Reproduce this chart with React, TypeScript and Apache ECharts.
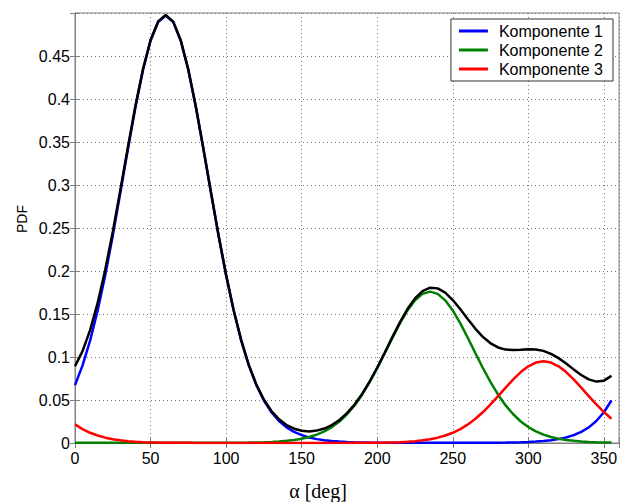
import React, { useEffect, useRef } from "react";
import * as echarts from "echarts";

const angles = [
  0, 5, 10, 15, 20, 25, 30, 35, 40, 45, 50, 55, 60, 65, 70, 75, 80, 85, 90, 95,
  100, 105, 110, 115, 120, 125, 130, 135, 140, 145, 150, 155, 160, 165, 170, 175,
  180, 185, 190, 195, 200, 205, 210, 215, 220, 225, 230, 235, 240, 245, 250, 255,
  260, 265, 270, 275, 280, 285, 290, 295, 300, 305, 310, 315, 320, 325, 330, 335,
  340, 345, 350, 355,
];

const komponente1 = [
  0.0673, 0.0903, 0.1191, 0.154, 0.195, 0.2411, 0.2909, 0.3416, 0.3905, 0.4337,
  0.4677, 0.4895, 0.497, 0.4895, 0.4677, 0.4337, 0.3905, 0.3416, 0.2909, 0.2411,
  0.195, 0.154, 0.1191, 0.0903, 0.0673, 0.0494, 0.0358, 0.0256, 0.0182, 0.0129,
  0.0091, 0.0064, 0.0045, 0.0032, 0.0023, 0.0017, 0.0012, 0.0009, 0.0007, 0.0005,
  0.0004, 0.0003, 0.0003, 0.0002, 0.0002, 0.0002, 0.0002, 0.0002, 0.0002, 0.0002,
  0.0002, 0.0002, 0.0002, 0.0002, 0.0003, 0.0003, 0.0004, 0.0005, 0.0007, 0.0009,
  0.0012, 0.0017, 0.0023, 0.0032, 0.0045, 0.0064, 0.0091, 0.0129, 0.0182, 0.0256,
  0.0358, 0.0494,
];

const komponente2 = [
  0.0004, 0.0003, 0.0002, 0.0002, 0.0002, 0.0002, 0.0002, 0.0002, 0.0002, 0.0002,
  0.0002, 0.0002, 0.0002, 0.0002, 0.0002, 0.0002, 0.0002, 0.0002, 0.0002, 0.0002,
  0.0002, 0.0003, 0.0004, 0.0005, 0.0007, 0.0009, 0.0013, 0.0018, 0.0025, 0.0036,
  0.005, 0.007, 0.0098, 0.0135, 0.0185, 0.025, 0.0334, 0.0437, 0.0562, 0.0707,
  0.0869, 0.1044, 0.1221, 0.1391, 0.1541, 0.1659, 0.1734, 0.176, 0.1734, 0.1659,
  0.1541, 0.1391, 0.1221, 0.1044, 0.0869, 0.0707, 0.0562, 0.0437, 0.0334, 0.025,
  0.0185, 0.0135, 0.0098, 0.007, 0.005, 0.0036, 0.0025, 0.0018, 0.0013, 0.0009,
  0.0007, 0.0005,
];

const komponente3 = [
  0.0216, 0.0162, 0.0119, 0.0087, 0.0062, 0.0044, 0.0031, 0.0021, 0.0015, 0.001,
  0.0007, 0.0005, 0.0004, 0.0003, 0.0002, 0.0002, 0.0001, 0.0001, 0.0001, 0.0001,
  0.0001, 0.0001, 0.0001, 0.0001, 0.0001, 0.0001, 0.0001, 0.0001, 0.0001, 0.0001,
  0.0001, 0.0001, 0.0001, 0.0001, 0.0001, 0.0001, 0.0001, 0.0002, 0.0002, 0.0003,
  0.0004, 0.0005, 0.0007, 0.001, 0.0015, 0.0021, 0.0031, 0.0044, 0.0062, 0.0087,
  0.0119, 0.0162, 0.0216, 0.0282, 0.036, 0.0449, 0.0545, 0.0644, 0.074, 0.0825,
  0.0892, 0.0935, 0.095, 0.0935, 0.0892, 0.0825, 0.074, 0.0644, 0.0545, 0.0449,
  0.036, 0.0282,
];

const gesamt = [
  0.0893, 0.1068, 0.1312, 0.1629, 0.2014, 0.2457, 0.2942, 0.3439, 0.3922, 0.4349,
  0.4686, 0.4902, 0.4976, 0.49, 0.4681, 0.4341, 0.3909, 0.342, 0.2913, 0.2415,
  0.1953, 0.1544, 0.1196, 0.0909, 0.0681, 0.0504, 0.0372, 0.0275, 0.0208, 0.0166,
  0.0142, 0.0135, 0.0144, 0.0168, 0.0209, 0.0268, 0.0347, 0.0447, 0.0571, 0.0715,
  0.0877, 0.1052, 0.1231, 0.1403, 0.1558, 0.1682, 0.1767, 0.1806, 0.1798, 0.1748,
  0.1662, 0.1555, 0.1439, 0.1328, 0.1232, 0.1159, 0.1111, 0.1086, 0.1081, 0.1084,
  0.1089, 0.1087, 0.1071, 0.1037, 0.0987, 0.0925, 0.0856, 0.0791, 0.074, 0.0714,
  0.0725, 0.0781,
];

const seriesNames = ["Komponente 1", "Komponente 2", "Komponente 3"];
const xTitle = "α [deg]";
const yTitle = "PDF";

const pairs = (ys: number[]) => angles.map((a, i) => [a, ys[i]]);

export default function App() {
  const ref = useRef<HTMLDivElement>(null);
  useEffect(() => {
    if (!ref.current) return;
    const chart = echarts.init(ref.current, undefined, { renderer: "svg" });
    const axisGray = "#808080";
    const gridLine = { show: true, lineStyle: { color: "#777", type: [1, 3] as any, width: 1 } };
    const sans = "'Liberation Sans', Arial, sans-serif";
    const mk = (name: string, data: number[], color: string) => ({
      name,
      type: "line",
      data: pairs(data),
      showSymbol: false,
      symbol: "none",
      silent: true,
      color,
      itemStyle: { color },
      lineStyle: { color, width: 2.5 },
      emphasis: { disabled: true },
      xAxisIndex: 0,
      yAxisIndex: 0,
    });
    chart.setOption({
      animation: false,
      backgroundColor: "#fff",
      grid: {
        left: 75,
        right: 7,
        top: 13,
        bottom: 59,
        show: true,
        borderColor: axisGray,
        borderWidth: 1,
        backgroundColor: "transparent",
      },
      legend: {
        data: seriesNames,
        orient: "vertical",
        right: 13,
        top: 19,
        icon: "rect",
        itemWidth: 29,
        itemHeight: 3,
        itemGap: 3,
        padding: [4, 10, 4, 8],
        borderColor: "#333",
        borderWidth: 1,
        backgroundColor: "#fff",
        selectedMode: false,
        textStyle: {
          fontSize: 16,
          fontFamily: sans,
          color: "#000",
          lineHeight: 16,
          padding: [0, 0, 0, 6],
        },
      },
      xAxis: [
        {
          type: "value",
          min: 0,
          max: 360,
          interval: 50,
          axisLine: { show: true, lineStyle: { color: axisGray, width: 1 } },
          axisTick: { show: true, inside: true, length: 5, lineStyle: { color: axisGray } },
          splitLine: gridLine,
          axisLabel: {
            fontSize: 16,
            fontFamily: sans,
            color: "#000",
            margin: 7,
            formatter: (v: number) => (v > 355 ? "" : String(v)),
          },
        },
        {
          type: "value",
          position: "top",
          min: 0,
          max: 360,
          interval: 50,
          axisLine: { show: true, lineStyle: { color: axisGray, width: 1 } },
          axisTick: { show: true, inside: true, length: 5, lineStyle: { color: axisGray } },
          splitLine: { show: false },
          axisLabel: { show: false },
        },
      ],
      yAxis: [
        {
          type: "value",
          min: 0,
          max: 0.5,
          interval: 0.05,
          axisLine: { show: true, lineStyle: { color: axisGray, width: 1 } },
          axisTick: { show: true, inside: true, length: 5, lineStyle: { color: axisGray } },
          splitLine: gridLine,
          axisLabel: {
            fontSize: 16,
            fontFamily: sans,
            color: "#000",
            margin: 5,
            formatter: (v: number) => (v > 0.49 ? "" : String(+v.toFixed(2))),
          },
        },
        {
          type: "value",
          position: "right",
          min: 0,
          max: 0.5,
          interval: 0.05,
          axisLine: { show: true, lineStyle: { color: axisGray, width: 1 } },
          axisTick: { show: true, inside: true, length: 5, lineStyle: { color: axisGray } },
          splitLine: { show: false },
          axisLabel: { show: false },
        },
      ],
      graphic: [
        {
          type: "text",
          x: 22,
          y: 219,
          rotation: Math.PI / 2,
          silent: true,
          style: {
            text: yTitle,
            fill: "#000",
            font: `14px ${sans}`,
            align: "center",
            verticalAlign: "middle",
          },
        },
        {
          type: "text",
          x: 318,
          y: 491,
          silent: true,
          style: {
            text: xTitle,
            fill: "#000",
            font: "20px 'Liberation Serif', 'Times New Roman', serif",
            align: "center",
            verticalAlign: "middle",
          },
        },
      ],
      series: [
        mk(seriesNames[0], komponente1, "#0000ff"),
        mk(seriesNames[1], komponente2, "#008000"),
        mk(seriesNames[2], komponente3, "#ff0000"),
        mk("Summe", gesamt, "#000000"),
      ],
    });
    return () => chart.dispose();
  }, []);
  return (
    <div
      ref={ref}
      style={{ position: "fixed", left: 0, top: 0, width: 626, height: 502, background: "#fff" }}
    />
  );
}
